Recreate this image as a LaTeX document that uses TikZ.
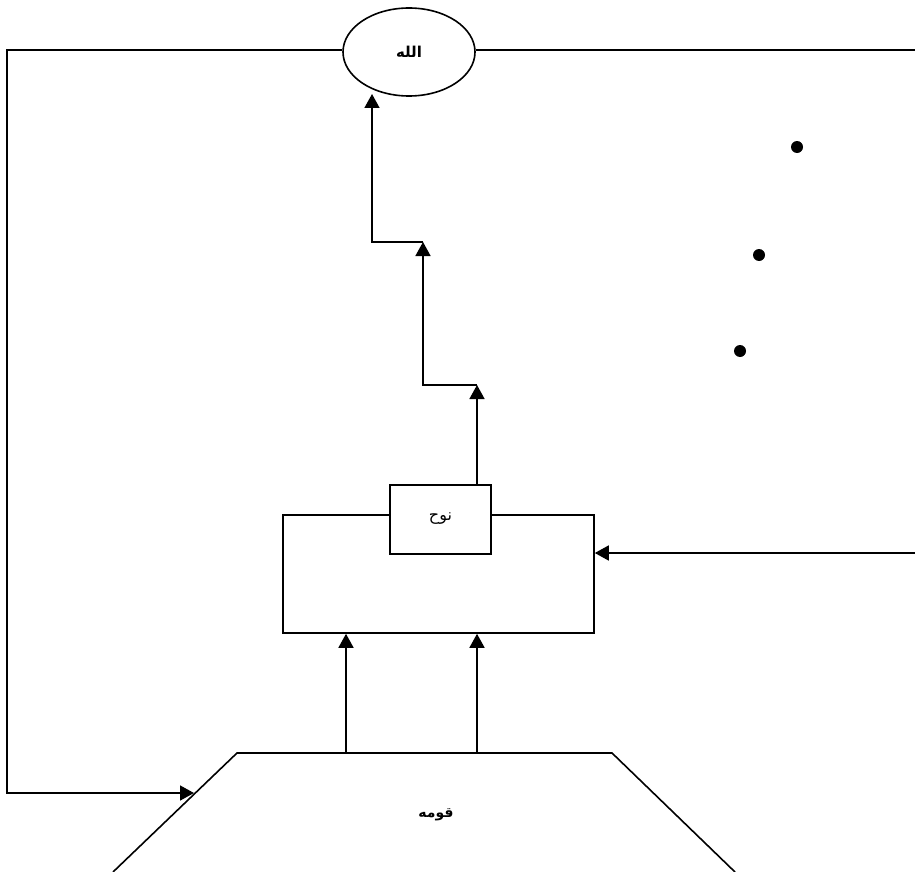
\documentclass[tikz,border=0pt]{standalone}
\usepackage{fontspec}
\newfontfamily\arabicfont[Script=Arabic]{DejaVu Sans}
\TeXXeTstate=1
\usetikzlibrary{arrows.meta, shapes.geometric}
\tikzset{
	onode/.style={draw, ellipse, line width=1.6pt, minimum width=132pt, minimum height=88pt,
		inner sep=0pt, font=\arabicfont\bfseries\fontsize{15}{17}\selectfont},
	bnode/.style={draw, fill=white, line width=1.6pt, minimum width=101pt, minimum height=69pt,
		inner sep=0pt, font=\arabicfont\fontsize{16}{18}\selectfont},
	gnode/.style={draw, line width=1.6pt, minimum width=311pt, minimum height=118pt, inner sep=0pt},
	tnode/.style={inner sep=0pt, font=\arabicfont\bfseries\fontsize{14}{16}\selectfont},
	dnode/.style={circle, fill, inner sep=0pt, minimum size=12pt},
	mline/.style={line width=1.6pt},
	marr/.style={-{Triangle[length=14pt, width=15pt]}, line width=1.6pt}
}

\begin{document}
\begin{tikzpicture}[x=1pt, y=-1pt]
	\useasboundingbox (0,0) rectangle (915,872);
	\clip (0,0) rectangle (915,872);
	\node[onode] (allah) at (409,52) {\beginR الله\endR};
	\node[gnode] (grp) at (438.5,574) {};
	\node[bnode] (nuh) at (440.5,519.5) {\raisebox{5pt}{\beginR نوح\endR}};
	\node[tnode] (qawm) at (436,815) {\beginR قومه\endR};
	\node[dnode] (d1) at (797,147) {};
	\node[dnode] (d2) at (759,255) {};
	\node[dnode] (d3) at (740,351) {};
	\draw[mline] (113,872) -- (237,753) -- (612,753) -- (735,872);
	\coordinate (ql) at (346,753);
	\coordinate (qr) at (477,753);
	\coordinate (qin) at (194,793);
	\coordinate (lc) at (7,50);
	\coordinate (rc) at (915,50);
	\coordinate (rin) at (915,553);
	\coordinate (s1) at (477,385);
	\coordinate (s2) at (423,385);
	\coordinate (s3) at (423,242);
	\coordinate (s4) at (372,242);
	\coordinate (s5) at (372,94);
	\draw[marr] (allah.west |- lc) -- (lc) -- (lc |- qin) -- (qin);
	\draw[mline] (allah.east |- rc) -- (rc);
	\draw[marr] (rin) -- (grp.east |- rin);
	\draw[marr] (ql) -- (ql |- grp.south);
	\draw[marr] (qr) -- (qr |- grp.south);
	\draw[marr] (s1 |- nuh.north) -- (s1);
	\draw[marr] (s1) -- (s2) -- (s3);
	\draw[marr] (s3) -- (s4) -- (s5);
\end{tikzpicture}
\end{document}
